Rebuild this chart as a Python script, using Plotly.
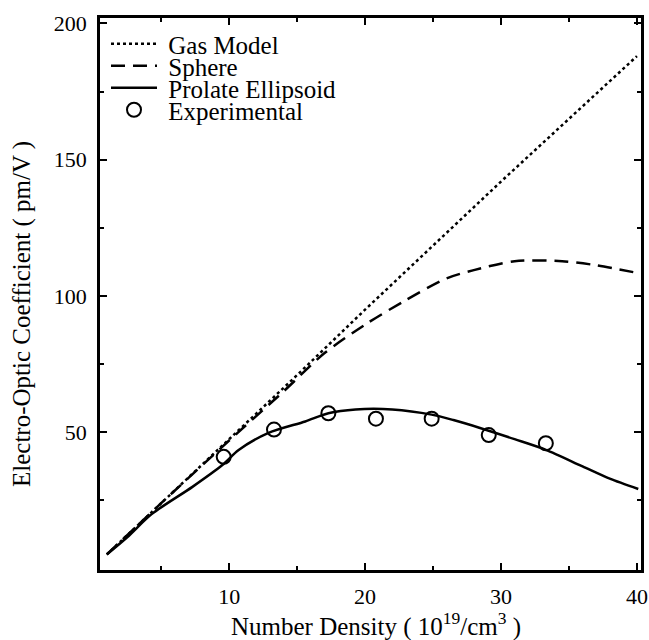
import plotly.graph_objects as go

# Data
gas_x = [1, 5, 10, 15, 20, 25, 30, 35, 40]
gas_y = [5.2, 24, 47.5, 71, 95, 118.5, 142, 165, 188]

sphere_x = [1, 5, 10, 14, 17, 20, 23, 26, 28, 31, 34.5, 37, 40]
sphere_y = [5.2, 24, 47, 65, 79, 89.5, 98.5, 106.5, 109.5, 112.8, 112.8, 111.3, 108.5]

prolate_x = [1, 2.5, 4.3, 7.3, 9.5, 10.7, 12.9, 15.6, 17.3, 19.3, 22, 24.9, 26.5,
             28.4, 31, 33.3, 36, 38, 40.1]
prolate_y = [5.2, 11.5, 20, 30, 38, 43.5, 49.8, 54, 57, 58.4, 58.4, 56.5, 54.5,
             51.7, 47.5, 43.6, 37.5, 33, 29.2]

exp_x = [9.6, 13.3, 17.3, 20.8, 24.9, 29.1, 33.3]
exp_y = [41, 51, 57, 55, 55, 49, 46]

x_ticks = [10, 20, 30, 40]
x_minor = [5, 15, 25, 35]
y_ticks = [50, 100, 150, 200]
y_minor = [25, 75, 125, 175]

series_names = ["Gas Model", "Sphere", "Prolate Ellipsoid", "Experimental"]
x_title = "Number Density ( 10<sup>19</sup>/cm<sup>3</sup> )"
y_title = "Electro-Optic Coefficient ( pm/V )"

FONT = "Liberation Serif, Times New Roman, serif"
W, H = 649, 640
ML, MR, MT, MB = 100, 8, 18, 70
plot_w = W - ML - MR
plot_h = H - MT - MB

NB = "\u00a0"  # gap between legend sample and text


def row_y(px):
    """paper y of a legend row centred at pixel px from the top"""
    return 1 - (px - MT) / plot_h


def px_x(px):
    return (px - ML) / plot_w


fig = go.Figure()
fig.add_trace(go.Scatter(x=gas_x, y=gas_y, mode="lines", name=NB + series_names[0],
                         legend="legend",
                         line=dict(color="black", width=2.5, dash="3px,3px")))
fig.add_trace(go.Scatter(x=sphere_x, y=sphere_y, mode="lines", name=NB + series_names[1],
                         legend="legend2",
                         line=dict(color="black", width=2.5, dash="14px,8px",
                                   shape="spline", smoothing=0.8)))
fig.add_trace(go.Scatter(x=prolate_x, y=prolate_y, mode="lines", name=NB + series_names[2],
                         legend="legend3",
                         line=dict(color="black", width=2.5, shape="spline", smoothing=0.8)))
fig.add_trace(go.Scatter(x=exp_x, y=exp_y, mode="markers", name=NB + series_names[3],
                         legend="legend4",
                         marker=dict(symbol="circle-open", size=14, color="black",
                                     line=dict(width=2, color="black"))))

axis_common = dict(showgrid=False, zeroline=False, showline=True, linecolor="black",
                   linewidth=2.5, mirror="allticks", ticks="inside", ticklen=7,
                   tickwidth=1.5, tickcolor="black", automargin=False,
                   tickfont=dict(family=FONT, size=22, color="black"))

fig.update_xaxes(range=[0.5, 40.3], tickmode="array", tickvals=x_ticks,
                 ticktext=[str(v) for v in x_ticks], ticklabelstandoff=5,
                 minor=dict(tickmode="array", tickvals=x_minor, ticks="inside",
                            ticklen=4, tickwidth=1.5, tickcolor="black"),
                 **axis_common)
fig.update_yaxes(range=[-0.5, 202], tickmode="array", tickvals=y_ticks,
                 ticktext=[str(v) for v in y_ticks], ticklabelstandoff=6,
                 minor=dict(tickmode="array", tickvals=y_minor, ticks="inside",
                            ticklen=4, tickwidth=1.5, tickcolor="black"),
                 **axis_common)

# axis titles placed as text annotations to match the reference positions
fig.add_annotation(text=x_title, xref="paper", yref="paper",
                   x=px_x(376), y=row_y(624), xanchor="center", yanchor="middle",
                   showarrow=False, font=dict(family=FONT, size=25, color="black"))
fig.add_annotation(text=y_title, xref="paper", yref="paper", textangle=-90,
                   x=px_x(22), y=row_y(314), xanchor="center", yanchor="middle",
                   showarrow=False, font=dict(family=FONT, size=25, color="black"))

leg_common = dict(x=px_x(106), xanchor="left", yanchor="middle", bgcolor="rgba(0,0,0,0)",
                  borderwidth=0, font=dict(family=FONT, size=25, color="black"),
                  itemclick=False, itemdoubleclick=False, itemwidth=46)

fig.update_layout(
    width=W, height=H,
    margin=dict(l=ML, r=MR, t=MT, b=MB),
    paper_bgcolor="white", plot_bgcolor="white",
    font=dict(family=FONT, color="black"),
    showlegend=True,
    legend=dict(y=row_y(44), **leg_common),
    legend2=dict(y=row_y(66), **leg_common),
    legend3=dict(y=row_y(88), **leg_common),
    legend4=dict(y=row_y(110), **leg_common),
)

fig.write_html("out.html", config={"displayModeBar": False},
               post_script="document.body.style.margin='0';document.body.style.padding='0';")
